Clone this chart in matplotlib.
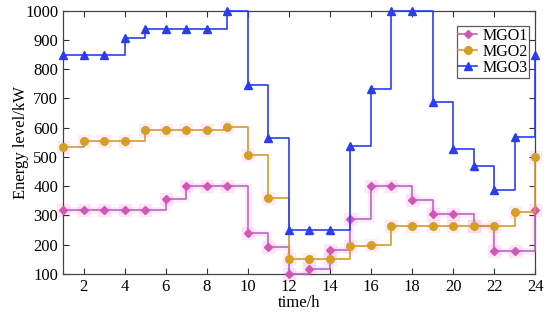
import matplotlib.pyplot as plt

plt.rcParams['font.family'] = ['Liberation Serif', 'DejaVu Serif']

hours = list(range(1, 25))
mgo1 = [320, 320, 320, 320, 320, 357, 400, 400, 400, 240, 192, 100,
        118, 182, 289, 400, 400, 352, 306, 306, 263, 178, 178, 320]
mgo2 = [533, 556, 556, 556, 592, 592, 592, 592, 601, 505, 360, 152,
        152, 152, 195, 198, 265, 265, 265, 265, 264, 263, 311, 500]
mgo3 = [850, 850, 850, 905, 937, 937, 937, 937, 1000, 745, 565, 250,
        250, 250, 536, 732, 1000, 1000, 687, 528, 468, 388, 568, 850]

fig = plt.figure(figsize=(5.5, 3.2), dpi=100)
ax = fig.add_axes([0.1145, 0.144, 0.8585, 0.8226])

# soft pink glow seen under the MGO1 trace
ax.plot(hours, mgo1, drawstyle='steps-post', color='#ff9be8', lw=5, alpha=0.18,
        zorder=1)
ax.plot(hours, mgo1, ls='none', marker='s', ms=9, color='#ffb0ee', alpha=0.25,
        zorder=1, clip_on=False)
ax.plot(hours, mgo2, ls='none', marker='s', ms=9, color='#ffb0ee', alpha=0.2,
        zorder=1, clip_on=False)

ax.plot(hours, mgo1, drawstyle='steps-post', color='#b46cbc', lw=1.2,
        marker='D', ms=4.5, mfc='#d057b4', mec='#d057b4', label='MGO1',
        zorder=3, clip_on=False)
ax.plot(hours, mgo2, drawstyle='steps-post', color='#d89a2c', lw=1.2,
        marker='o', ms=5.5, mfc='#d4a024', mec='#d4a024', label='MGO2',
        zorder=3, clip_on=False)
ax.plot(hours, mgo3, drawstyle='steps-post', color='#2b3df2', lw=1.2,
        marker='^', ms=6, mfc='#2b3df2', mec='#2b3df2', label='MGO3',
        zorder=4, clip_on=False)

ax.set_xlim(1, 24)
ax.set_ylim(100, 1000)
ax.set_xticks(range(2, 25, 2))
ax.set_yticks(range(100, 1001, 100))
ax.tick_params(direction='in', top=True, right=True, labelsize=12, length=4,
               width=0.8, colors='#333333', labelcolor='black')
for s in ax.spines.values():
    s.set_color('#444444')
    s.set_linewidth(0.9)

ax.set_xlabel('time/h', fontsize=12, labelpad=0)
ax.set_ylabel('Energy level/kW', fontsize=12, labelpad=-3)

leg = ax.legend(loc='upper right', bbox_to_anchor=(0.987, 0.94), fontsize=11.5,
                frameon=True, fancybox=False, edgecolor='#333333',
                borderpad=0.1, labelspacing=0.0, handlelength=1.2,
                handletextpad=0.3, borderaxespad=0)
leg.get_frame().set_linewidth(0.9)

fig.savefig('out.png', dpi=100)
